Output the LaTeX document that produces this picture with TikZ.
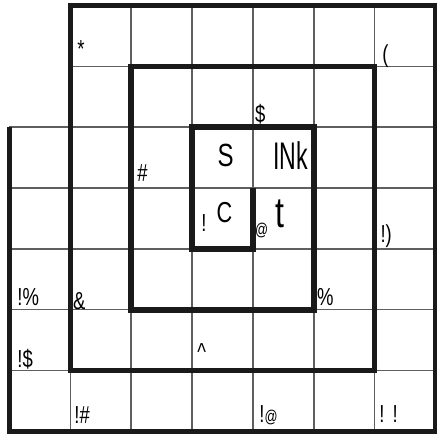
\documentclass[tikz,border=0pt]{standalone}
\usepackage{fontspec}
\setmainfont[FakeStretch=0.75]{Liberation Sans}
\newfontfamily\narrowfont[FakeStretch=0.6]{Liberation Sans}
\usetikzlibrary{positioning}
\definecolor{inkgrey}{RGB}{26,26,26}
\definecolor{linegrey}{RGB}{95,95,95}

\begin{document}
\begin{tikzpicture}[
    gridline/.style={draw=linegrey, line width=0.7pt},
    spiral/.style={draw=inkgrey, line width=2.6pt, line join=miter},
    tag/.style={
        anchor=base west,
        inner sep=0pt,
        font=\fontsize{11.5}{13}\selectfont
    },
    big/.style={
        anchor=base,
        inner sep=0pt
    }
]
\useasboundingbox (-0.156,-0.03) rectangle (7.025,7.09);

% THIN GRID
\foreach \x in {1,...,6}
    \draw[gridline] (\x,0) -- (\x,7);
\foreach \y in {1,...,5}
    \draw[gridline] (0,\y) -- (7,\y);
\draw[gridline] (1,6) -- (7,6);

% SPIRAL WALL
\draw[spiral] (0,5) -- (0,0) -- (7,0) -- (7,7) -- (1,7) -- (1,1) -- (6,1)
    -- (6,6) -- (2,6) -- (2,2) -- (5,2) -- (5,5) -- (3,5) -- (3,3)
    -- (4,3) -- (4,4);

% SMALL MARKS
\node[tag] (star) at (1.11,6.14) {*};
\node[tag] (paren) at (6.12,6.07) {(};
\node[tag] (dollar) at (4.03,5.085) {\$};
\node[tag] (hash) at (2.095,4.10) {\#};
\node[tag] (bang) at (3.147,3.278) {!};
\node[tag] (at) at (4.03,3.228) {\fontsize{8}{9}\selectfont @};
\node[tag] (bangparen) at (6.09,3.113) {!)};
\node[tag] (bangpercent) at (0.123,2.062) {!\%};
\node[tag] (amp) at (1.04,2.012) {\&};
\node[tag] (percent) at (5.05,2.078) {\%};
\node[tag] (caret) at (3.08,1.174) {\textasciicircum};
\node[tag] (bangdollar) at (0.123,1.043) {!\$};
\node[tag] (banghash) at (1.06,0.139) {!\#};
\node[tag] (bangat) at (4.10,0.155) {!{\fontsize{8}{9}\selectfont @}};
\node[tag] (bangbang) at (6.07,0.155) {!\,\,!};

% CENTRE LETTERS
\node[big, font=\fontsize{15}{17}\selectfont] (S) at (3.55,4.346) {S};
\node[big, font=\narrowfont\fontsize{18}{20}\selectfont] (INk) at (4.618,4.297) {INk};
\node[big, font=\fontsize{13.5}{15}\selectfont] (C) at (3.533,3.426) {C};
\node[big, font=\fontsize{20}{22}\selectfont] (t) at (4.445,3.344) {t};

\end{tikzpicture}
\end{document}
